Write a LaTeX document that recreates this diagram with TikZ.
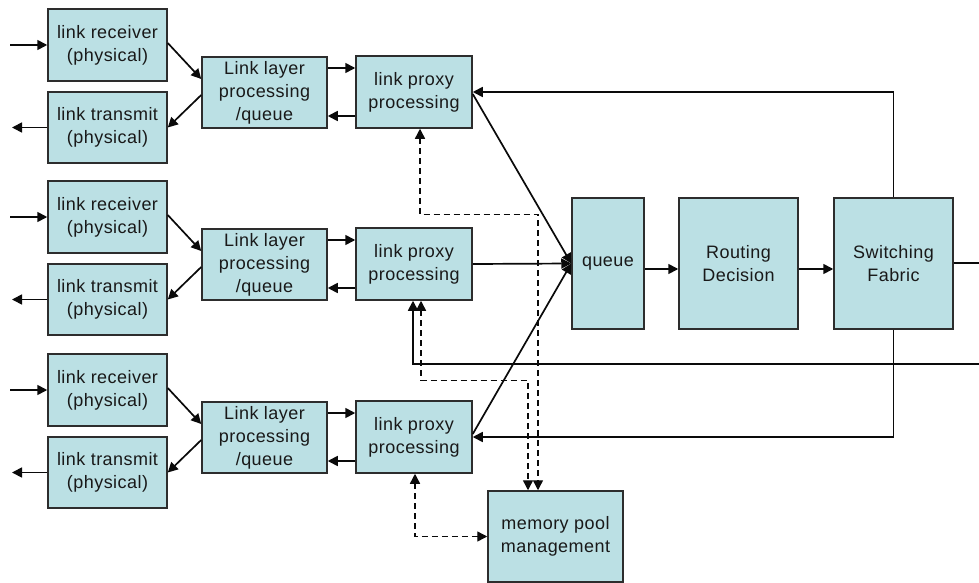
\documentclass[tikz,border=0pt]{standalone}
\usepackage{fontspec}
\setmainfont{Liberation Sans}[LetterSpace=2.5]
\usetikzlibrary{arrows.meta,calc}
\definecolor{boxfill}{RGB}{187,224,228}
\definecolor{boxline}{RGB}{45,45,45}
\definecolor{wireline}{RGB}{10,10,10}
\begin{document}
\begin{tikzpicture}[x=1pt,y=-1pt,
  blk/.style={draw=boxline, line width=1.5pt, fill=boxfill, align=center,
    inner sep=0pt, font=\fontsize{18}{23}\selectfont, text=black!90},
  conn/.style={draw=wireline, line width=1.7pt, -{Triangle[length=10pt,width=10pt]}},
  wire/.style={draw=wireline, line width=1.7pt},
  dconn/.style={draw=wireline, line width=1.4pt, dash pattern=on 6pt off 4pt,
    {Triangle[length=10pt,width=10pt]}-{Triangle[length=10pt,width=10pt]}}]
  \useasboundingbox (0,0) rectangle (979,583);

  % three identical link interface groups
  \foreach \g/\dy in {1/0,2/172,3/345}{
    \node[blk, minimum width=119pt, minimum height=72pt] (rx\g) at (107.5,45+\dy) {link receiver\\(physical)};
    \node[blk, minimum width=119pt, minimum height=71pt] (tx\g) at (107.5,127.5+\dy) {link transmit\\(physical)};
    \node[blk, minimum width=125pt, minimum height=71pt] (ll\g) at (264.5,92.5+\dy) {Link layer\\processing\\/queue};
    \node[blk, minimum width=116pt, minimum height=72pt] (px\g) at (414,92+\dy) {link proxy\\processing};
    \coordinate (in\g) at (10,45+\dy);
    \coordinate (out\g) at (12,127.5+\dy);
    \draw[conn] (in\g) -- (rx\g.west);
    \draw[conn] (tx\g.west) -- (out\g);
    \draw[conn] ($(rx\g.east)+(0,-2)$) -- ($(ll\g.west)+(0,-13.5)$);
    \draw[conn] ($(ll\g.west)+(0,2.5)$) -- ($(tx\g.east)+(0,0)$);
    \draw[conn] ($(ll\g.east)+(0,-24.5)$) -- ($(px\g.west)+(0,-24)$);
    \draw[conn] ($(px\g.west)+(0,24)$) -- ($(ll\g.east)+(0,23.5)$);
  }

  % forwarding core
  \node[blk, minimum width=72pt, minimum height=131pt] (q) at (608,263.5) {queue};
  \node[blk, minimum width=119pt, minimum height=131pt] (rd) at (738.5,263.5) {Routing\\Decision};
  \node[blk, minimum width=119pt, minimum height=131pt] (sf) at (893.5,263.5) {Switching\\Fabric};
  \node[blk, minimum width=135pt, minimum height=91pt] (mem) at (555.5,536.5) {memory pool\\management};

  \draw[conn] ($(px1.east)+(0,2)$) -- (q.west);
  \draw[conn] (px2.east) -- (q.west);
  \draw[conn] ($(px3.east)+(0,-3)$) -- (q.west);
  \draw[conn] ([yshift=-5.5pt]q.east) -- ([yshift=-5.5pt]rd.west);
  \draw[conn] ([yshift=-5.5pt]rd.east) -- ([yshift=-5.5pt]sf.west);

  % switching fabric outputs
  \coordinate (sfout) at (979,263);
  \draw[wire] (sf.east |- sfout) -- (sfout);
  \draw[conn] (sf.north) |- (px1.east);
  \draw[conn] (sf.south) |- (px3.east);
  \coordinate (ret2) at (979,364);
  \draw[conn] (ret2) -| ($(px2.south)+(-1,0)$);

  % buffer requests to the memory pool
  \draw[dconn] ($(px1.south)+(6,0)$) -- ++(0,86) -| ($(mem.north)+(-17.5,0)$);
  \draw[dconn] ($(px2.south)+(7,0)$) -- ++(0,80) -| ($(mem.north)+(-27.5,0)$);
  \draw[dconn] ($(px3.south)+(1,0)$) |- (mem.west);
\end{tikzpicture}
\end{document}
